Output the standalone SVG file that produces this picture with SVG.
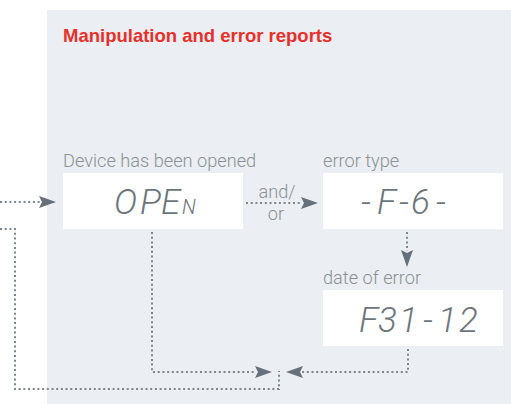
<svg xmlns="http://www.w3.org/2000/svg" width="511" height="404" viewBox="0 0 511 404">
<defs>
<style>
.panel{fill:#ebeef2}
.title{font-family:"Liberation Sans",Arial,sans-serif;font-weight:bold;font-size:18.5px;fill:#e8302a}
.lbl{font-family:Roboto,"Liberation Sans",sans-serif;font-weight:300;font-size:18.2px;fill:#8a9197}
.box{fill:#ffffff}
.lcd{font-family:Roboto,"Liberation Sans",sans-serif;font-weight:300;font-style:italic;font-size:35px;fill:#6c757c}
.dot{fill:none;stroke:#7d858c;stroke-width:2;stroke-dasharray:2 2.7}
</style>
<marker id="ah" viewBox="0 0 17 12" refX="1" refY="6" markerWidth="17" markerHeight="12" markerUnits="userSpaceOnUse" orient="auto">
<path d="M0,0 L17,6 L0,12 L3,6 Z" fill="#66707a"/>
</marker>
</defs>
<rect class="panel" x="47" y="10" width="464" height="394"/>
<text class="title" x="63" y="42">Manipulation and error reports</text>
<g id="open">
<text class="lbl" x="63" y="167">Device has been opened</text>
<rect class="box" x="63" y="173" width="180" height="56"/>
<text class="lcd" y="214"><tspan x="114">O</tspan><tspan x="140">P</tspan><tspan x="161">E</tspan><tspan x="182" font-size="20">N</tspan></text>
</g>
<g id="errortype">
<text class="lbl" x="323" y="167">error type</text>
<rect class="box" x="323" y="173" width="180" height="56"/>
<text class="lcd" y="214"><tspan x="361">-</tspan><tspan x="377">F</tspan><tspan x="399">-</tspan><tspan x="411">6</tspan><tspan x="436">-</tspan></text>
</g>
<g id="date">
<text class="lbl" x="323" y="284">date of error</text>
<rect class="box" x="323" y="290" width="180" height="56"/>
<text class="lcd" y="332"><tspan x="359">F</tspan><tspan x="378">3</tspan><tspan x="399">1</tspan><tspan x="423">-</tspan><tspan x="438">1</tspan><tspan x="459">2</tspan></text>
</g>
<g id="connectors">
<path class="dot" d="M0,202 H40" marker-end="url(#ah)"/>
<path class="dot" d="M246,203 H302" marker-end="url(#ah)"/>
<text class="lbl" x="277" y="198" text-anchor="middle" font-size="17.5">and/</text>
<text class="lbl" x="276" y="220" text-anchor="middle" font-size="17.5">or</text>
<path class="dot" d="M407,232 V251" marker-end="url(#ah)"/>
<path class="dot" d="M152,232 V372 H256" marker-end="url(#ah)"/>
<path class="dot" d="M408,349 V372 H302" marker-end="url(#ah)"/>
<path class="dot" d="M0,229 H15 V389 H279 V371"/>
</g>
</svg>
